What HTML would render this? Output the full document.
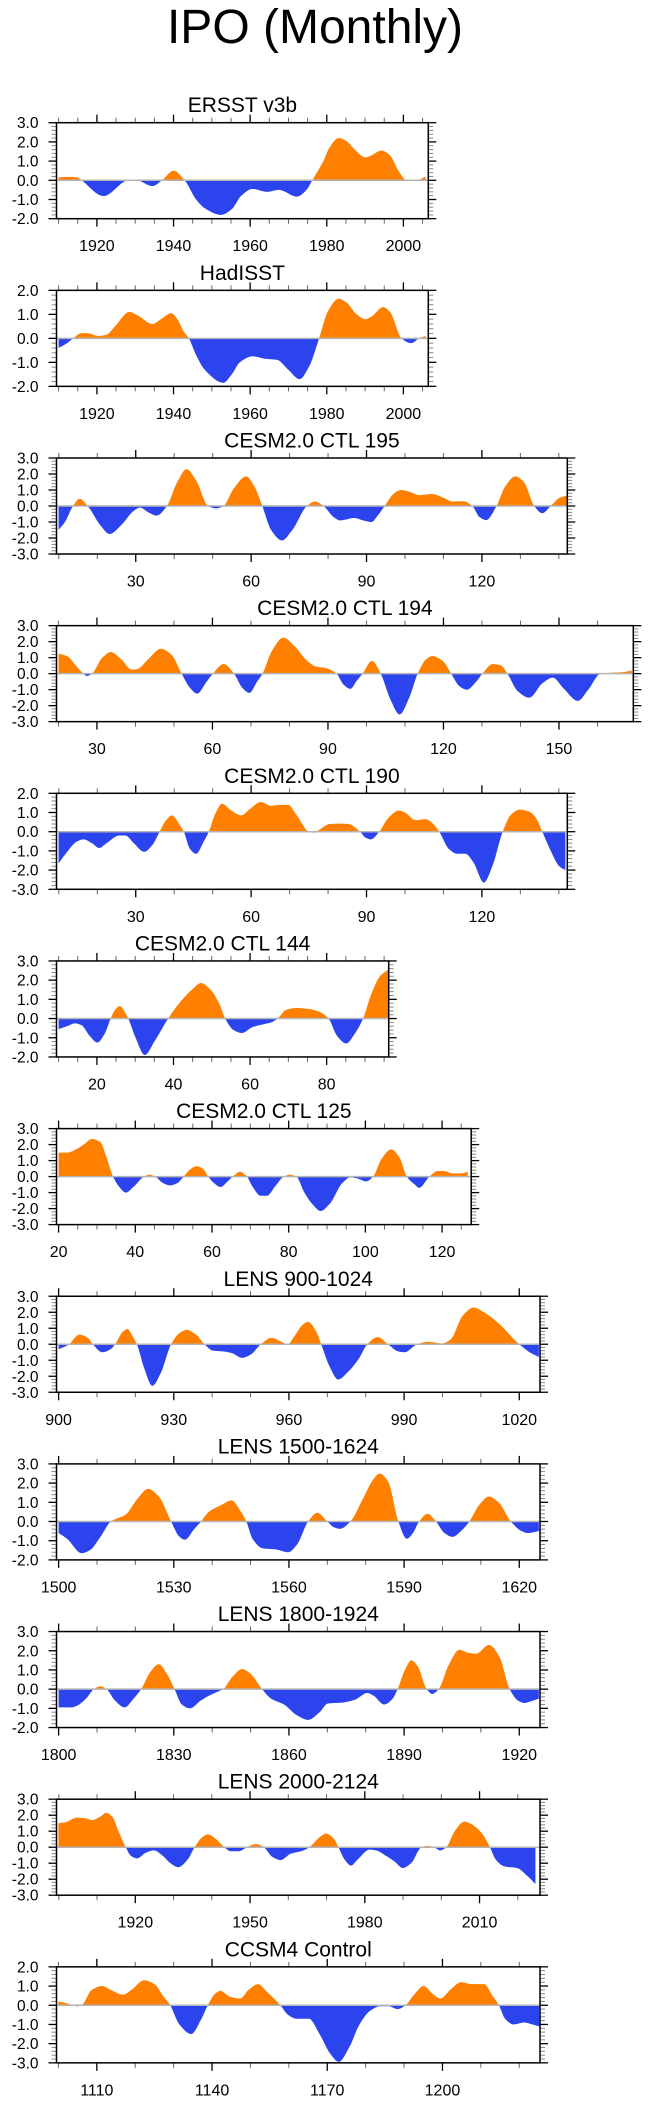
<!DOCTYPE html>
<html><head><meta charset="utf-8">
<style>
html,body{margin:0;padding:0;background:#fff;}
svg{display:block;font-family:"Liberation Sans",Arial,sans-serif;}
</style></head>
<body>
<svg id="chart" width="654" height="2105" viewBox="0 0 654 2105" xmlns="http://www.w3.org/2000/svg">
<text x="315" y="43" font-size="48" text-anchor="middle">IPO (Monthly)</text>
</svg>
<script>
// ---------- data ----------
const ersstX = [1910,1912.7,1914.9,1916,1921.7,1928,1929.6,1930.7,1934.5,1937,1940,1942.9,1945.9,1948.1,1952.4,1955.2,1957.7,1960.6,1964.4,1967.5,1972.2,1974.7,1976.2,1979.1,1980.7,1983.1,1985.1,1987.3,1990,1991.1,1994.3,1996.5,1998.7,2000.9,2003.6,2005.8];
const ersstY = [0.15,0.18,0.15,0,-0.82,0,0.04,0,-0.3,0,0.5,0,-1.0,-1.45,-1.8,-1.5,-0.8,-0.45,-0.6,-0.5,-0.85,-0.5,0,1.0,1.7,2.2,2.05,1.6,1.2,1.25,1.55,1.3,0.5,0,0,0.2];

const hadX = [1910,1912.2,1913.8,1916,1918.1,1920.3,1922.5,1924.7,1928.5,1930.7,1934.5,1936.7,1939.4,1941,1942.6,1944,1945.9,1948.1,1953,1955.2,1957.3,1960.6,1963.9,1967.1,1969.9,1972.9,1975.3,1978,1980.2,1983.1,1985.1,1987.8,1990,1991.6,1994.7,1996.5,1999.5,2002,2004.1,2005.8];
const hadY = [-0.4,-0.2,0,0.22,0.2,0.1,0.15,0.5,1.1,0.95,0.6,0.8,1.05,0.8,0.3,0,-0.7,-1.3,-1.85,-1.5,-1.0,-0.75,-0.85,-0.9,-1.3,-1.7,-1.2,0,1.1,1.65,1.5,1.0,0.8,0.9,1.3,1.1,0,-0.2,0,0.1];

const c195X = [9.94,11.6,13.7,15.4,17.5,20.8,23.2,26.2,29.5,31.1,33.3,35.4,38.1,40.8,43.2,45.7,48.8,50.9,52.8,55.5,58.7,60.9,62.9,65.2,68,70.7,74.5,76.6,78.8,81.5,83.1,86.9,89.1,91.3,92.9,94.7,97.2,98.9,101.6,103.7,107,109.7,112.4,115.1,117.5,119.4,121.1,123.8,126,128.7,130.9,133.6,135.7,137.9,140.1,142];
const c195Y = [-1.49,-1.0,0,0.45,0,-1.2,-1.75,-1.2,-0.3,-0.1,-0.4,-0.6,0,1.5,2.3,1.6,0,-0.15,0,1.1,1.85,1.2,0,-1.5,-2.15,-1.5,0,0.28,0,-0.7,-0.9,-0.75,-0.9,-1.0,-0.6,0,0.8,1.0,0.85,0.68,0.75,0.55,0.28,0.3,0,-0.7,-0.88,0,1.2,1.85,1.5,0,-0.45,0,0.5,0.65];

const c194X = [20.04,22.2,24.9,26.5,27.4,28.7,31.4,33.6,36.3,39,40.6,43.3,46.6,49.3,52,54.2,56,58.5,60.1,62.9,65.6,67.8,69.6,71.6,73,75.4,78.4,81.4,84.6,86.8,89.5,92.2,94.1,95.8,97.6,99,101.4,103.7,106.2,108.6,111.1,113.3,115.5,117.1,119.8,122,124.2,126.1,128.5,130.1,132.8,135,136.6,139.3,142.3,145.7,148.4,151.1,154.9,157.6,160.8,163,166.8,168.9];
const c194Y = [1.25,1.1,0.4,0,-0.15,0,1.0,1.35,0.9,0.25,0.3,0.9,1.55,1.2,0,-0.9,-1.25,-0.5,0,0.6,0,-0.9,-1.2,-0.5,0,1.4,2.25,1.7,0.8,0.45,0.35,0,-0.7,-0.95,-0.4,0,0.8,0,-1.6,-2.55,-1.5,0,0.9,1.1,0.8,0,-0.8,-1.0,-0.5,0,0.6,0.5,0,-1.1,-1.5,-0.6,-0.25,-0.9,-1.7,-1.0,0,0.05,0.1,0.2];

const c190X = [9.94,11.6,14.8,16.4,18.6,20.5,22.4,25.7,27.3,29.5,32.2,34.3,36.2,37.9,39.4,41.3,42.5,44.1,45.7,47.7,49,50.6,52.4,54.9,57.4,59.8,62.5,65.2,67.4,69.6,71.7,75,76.3,77.7,80.4,82.6,85.3,88.3,89.7,91.1,93.3,95.6,98.4,100,102.7,105.4,107.1,108.9,111.4,113.6,115.7,117.8,120.5,122.7,125.4,127.6,129.8,132.3,134.1,135.7,137.9,140.1,141.7];
const c190Y = [-1.65,-1.2,-0.5,-0.4,-0.6,-0.85,-0.6,-0.2,-0.2,-0.6,-1.05,-0.7,0,0.6,0.85,0.4,0,-0.9,-1.15,-0.5,0,0.9,1.45,1.1,0.85,1.2,1.55,1.35,1.4,1.4,0.9,0,-0.05,0.1,0.4,0.42,0.4,0,-0.3,-0.4,0,0.7,1.1,1.0,0.6,0.65,0.45,0,-0.9,-1.15,-1.15,-1.6,-2.65,-1.8,0,0.9,1.15,1.05,0.7,0,-1.0,-1.8,-2.0];

const c144X = [10,12.2,14.3,16,18.1,20.1,22,23.6,24.7,26,27.4,28.2,30.1,32.5,35,38.6,41.5,44.8,47.2,49.7,51.9,53.5,55.7,57.9,60.6,63.4,65.5,67.2,69.4,72.1,75.3,78.1,80.5,82.7,85.1,87.3,89.5,91.7,93.9,96.1];
const c144Y = [-0.55,-0.4,-0.25,-0.35,-0.9,-1.25,-0.8,0,0.45,0.65,0.3,0,-1.0,-1.9,-1.2,0,0.8,1.5,1.85,1.5,0.8,0,-0.6,-0.75,-0.45,-0.3,-0.2,0,0.45,0.55,0.5,0.35,0,-0.9,-1.3,-0.8,0,1.3,2.2,2.55];

const c125X = [20,22.2,24.9,26.5,28.7,30.9,32.5,34.2,36,37.5,39.5,42.3,43.7,45.2,47.2,49.1,51,52.6,54.3,55.9,57.6,59,60.5,62.2,64.1,65.4,67.3,69.1,70.5,72.7,74.3,76.5,78.7,80.3,82,84.1,86.3,88.3,90.7,94,96.1,97.7,100.2,102,104.2,106.7,108.9,110.8,112.9,114,116.7,118.9,120.5,122.7,124.9,126.7];
const c125Y = [1.5,1.5,1.75,2.0,2.35,2.15,1.2,0,-0.7,-1.0,-0.65,0,0.12,0,-0.4,-0.55,-0.4,0,0.45,0.65,0.5,0,-0.4,-0.65,-0.3,0,0.3,0,-0.6,-1.2,-1.2,-0.6,0,0.12,0,-1.0,-1.75,-2.15,-1.7,-0.4,-0.05,-0.1,-0.3,0,1.1,1.7,1.2,0,-0.5,-0.7,0,0.35,0.35,0.2,0.2,0.3];

const l900X = [900,901.6,902.7,905.4,907.6,908.9,911.4,913.6,914.7,916.8,917.9,919.5,920.4,922.3,924.4,926.6,929.3,931.5,933.4,935.8,938,940.2,942.9,945.1,947.8,950,952.7,955.4,958.1,959.7,961.4,963.5,964.9,967.1,968.4,970.6,972.8,975.5,978.2,980.4,983.1,985.8,988.5,990.1,993.4,996.1,998.3,999.9,1002.1,1005.3,1008.1,1010.8,1015.1,1019.5,1020,1022.7,1025.1];
const l900Y = [-0.3,-0.15,0,0.6,0.4,0,-0.5,-0.3,0,0.8,0.95,0.4,0,-1.5,-2.6,-1.8,0,0.7,0.9,0.6,0,-0.4,-0.45,-0.55,-0.85,-0.65,0,0.4,0.15,0,0.5,1.2,1.4,0.8,0,-1.4,-2.2,-1.7,-0.9,0,0.45,0,-0.45,-0.5,0,0.15,0.1,0.05,0.3,1.8,2.3,2.0,1.2,0.1,0,-0.5,-0.8];

const l1500X = [1500,1502.2,1506,1508.1,1510.9,1513.6,1517.4,1520.6,1523.3,1526.1,1529.3,1531.5,1532.9,1535.3,1537.1,1539.1,1542.3,1545.1,1547.2,1548.9,1550.5,1553.2,1556.5,1559.8,1562.1,1565,1567.4,1570,1571.7,1573.3,1576,1579.3,1582,1583.6,1585.8,1588.5,1590.7,1592.3,1593.9,1596.1,1598.3,1600.5,1602.6,1605.3,1607,1609.7,1612.1,1614.6,1617.8,1620.6,1622.2,1625.1];
const l1500Y = [-0.6,-0.9,-1.65,-1.5,-0.8,0,0.35,1.2,1.7,1.3,0,-0.8,-0.95,-0.4,0,0.5,0.85,1.1,0.6,0,-0.9,-1.4,-1.45,-1.6,-1.2,0,0.45,0,-0.3,-0.38,0,1.2,2.2,2.5,2.1,0,-0.9,-0.6,0,0.4,0,-0.6,-0.8,-0.4,0,0.9,1.3,1.0,0,-0.5,-0.6,-0.5];

const l1800X = [1800,1803.3,1804.9,1807.1,1809.2,1810.9,1812.5,1814.7,1817.2,1819.5,1821.5,1823.9,1826.1,1828.2,1830.2,1832.1,1834.2,1837,1839.1,1841.8,1842.9,1845.1,1847.8,1850,1853,1855.4,1858.7,1862,1865,1868,1870.1,1873.9,1877.2,1880.4,1882.1,1884.8,1887,1888.3,1890.2,1891.9,1893.5,1895.9,1897.3,1899,1901.7,1904.4,1906.6,1908.8,1912.1,1914.8,1917.5,1919.7,1921.3,1923.5,1925.1];
const l1800Y = [-0.95,-0.95,-0.85,-0.5,0,0.15,0,-0.6,-0.95,-0.5,0,0.9,1.3,0.8,0,-0.8,-1.0,-0.6,-0.35,-0.1,0,0.6,1.05,0.8,0,-0.5,-0.8,-1.35,-1.6,-1.2,-0.75,-0.7,-0.55,-0.2,-0.35,-0.8,-0.5,0,1.0,1.5,1.2,0,-0.25,0,1.3,2.05,1.9,1.85,2.3,1.7,0,-0.6,-0.72,-0.6,-0.5];

const l2000X = [1899.9,1901.6,1904.8,1907,1908.6,1910.8,1912.4,1914,1915.6,1917.5,1918.9,1920.5,1922.7,1924.9,1927,1929.2,1931.2,1933.6,1935.5,1937.4,1939,1941.1,1943.3,1944.9,1947.1,1949.2,1951.5,1953.6,1955.8,1958,1960.7,1963.4,1965.5,1968.3,1969.9,1972,1973.1,1974.8,1976.4,1978,1981.3,1982.9,1985.6,1987.8,1989.9,1992.1,1994.8,1996.4,1998.1,1999.7,2001.3,2003.5,2006,2007.8,2010.5,2012.7,2014.3,2016.5,2019.8,2022.5,2024.6];
const l2000Y = [1.5,1.55,1.85,1.8,1.7,1.9,2.15,1.9,1.0,0,-0.55,-0.7,-0.35,-0.2,-0.5,-1.0,-1.25,-0.8,0,0.6,0.8,0.5,0,-0.25,-0.25,0,0.2,0,-0.6,-0.8,-0.4,-0.25,0,0.65,0.85,0.5,0,-0.8,-1.15,-0.8,-0.15,-0.2,-0.55,-0.9,-1.3,-1.0,0,0.08,0,-0.2,0,1.0,1.6,1.45,0.9,0,-0.8,-1.2,-1.3,-1.8,-2.3];

const ccsmX = [1100,1102.2,1103.8,1104.9,1106,1108.7,1111.4,1114.1,1116.8,1119,1122.3,1125,1127.2,1129.1,1131.5,1134.6,1137,1138.9,1140.8,1142.2,1144.6,1147.3,1149.5,1152,1154.3,1157.8,1159.8,1162,1165.2,1168,1170.7,1173,1175.7,1178.4,1181.1,1183.8,1186,1188.3,1190.4,1192.6,1195.1,1197.4,1199.5,1202,1204.9,1207.6,1210.9,1213,1214.7,1216.3,1218.5,1221.2,1223.4,1225.2];
const ccsmY = [0.2,0.1,0,-0.05,0,0.8,1.0,0.75,0.55,0.8,1.3,1.1,0.5,0,-1.0,-1.5,-0.8,0,0.6,0.75,0.45,0.35,0.8,1.1,0.7,0,-0.5,-0.7,-0.7,-1.5,-2.5,-2.95,-2.2,-1.0,-0.3,-0.05,-0.05,-0.2,0,0.55,1.0,0.6,0.35,0.8,1.2,1.1,1.1,0.5,0,-0.7,-1.0,-0.9,-1.0,-1.1];

// y tick labels
const yLabels32 = ["3.0","2.0","1.0","0.0","-1.0","-2.0"];

// ---------- panel layout ----------
const panels = [
 {name:"ersst", title:"ERSST v3b", xs:ersstX, ys:ersstY, dom:[1909.45,2006.5], yd:[-2,3], right:428.3, major:[1920,1940,1960,1980,2000], minor:5, minorFrom:1910},
 {name:"hadisst", title:"HadISST", xs:hadX, ys:hadY, dom:[1909.45,2006.5], yd:[-2,2], right:428.3, major:[1920,1940,1960,1980,2000], minor:5, minorFrom:1910},
 {name:"cesm-ctl-195", title:"CESM2.0 CTL 195", xs:c195X, ys:c195Y, dom:[9.4,142.2], yd:[-3,3], right:567.3, major:[30,60,90,120], minor:10, minorFrom:10},
 {name:"cesm-ctl-194", title:"CESM2.0 CTL 194", xs:c194X, ys:c194Y, dom:[19.5,169.3], yd:[-3,3], right:633.3, major:[30,60,90,120,150], minor:10, minorFrom:20},
 {name:"cesm-ctl-190", title:"CESM2.0 CTL 190", xs:c190X, ys:c190Y, dom:[9.4,142.2], yd:[-3,2], right:567.3, major:[30,60,90,120], minor:10, minorFrom:10},
 {name:"cesm-ctl-144", title:"CESM2.0 CTL 144", xs:c144X, ys:c144Y, dom:[9.45,96.2], yd:[-2,3], right:388.7, major:[20,40,60,80], minor:5, minorFrom:10},
 {name:"cesm-ctl-125", title:"CESM2.0 CTL 125", xs:c125X, ys:c125Y, dom:[19.45,127.6], yd:[-3,3], right:471.2, major:[20,40,60,80,100,120], minor:5, minorFrom:20},
 {name:"lens-900", title:"LENS 900-1024", xs:l900X, ys:l900Y, dom:[899.45,1025.4], yd:[-3,3], right:540, major:[900,930,960,990,1020], minor:10, minorFrom:900},
 {name:"lens-1500", title:"LENS 1500-1624", xs:l1500X, ys:l1500Y, dom:[1499.45,1625.4], yd:[-2,3], right:540, major:[1500,1530,1560,1590,1620], minor:10, minorFrom:1500},
 {name:"lens-1800", title:"LENS 1800-1924", xs:l1800X, ys:l1800Y, dom:[1799.45,1925.4], yd:[-2,3], right:540, major:[1800,1830,1860,1890,1920], minor:10, minorFrom:1800},
 {name:"lens-2000", title:"LENS 2000-2124", xs:l2000X, ys:l2000Y, dom:[1899.4,2025.8], yd:[-3,3], right:540, major:[1920,1950,1980,2010], minor:10, minorFrom:1900},
 {name:"ccsm4-control", title:"CCSM4 Control", xs:ccsmX, ys:ccsmY, dom:[1099.5,1225.4], yd:[-3,2], right:540, major:[1110,1140,1170,1200], minor:10, minorFrom:1100}
];

const NS = "http://www.w3.org/2000/svg";
const svg = document.getElementById("chart");
const LEFT = 56.5, TOP0 = 122.7, STEP = 167.65, H = 96;

function mk(tag, attrs, parent){
  const e = document.createElementNS(NS, tag);
  for (const k in attrs) e.setAttribute(k, attrs[k]);
  parent.appendChild(e);
  return e;
}

// monotone cubic (Fritsch–Carlson) evaluation for smooth rendering between read points
function monotone(xs, ys){
  const n = xs.length, d = [], m = [];
  for (let i=0;i<n-1;i++) d.push((ys[i+1]-ys[i])/(xs[i+1]-xs[i]));
  m[0]=d[0]; m[n-1]=d[n-2];
  for (let i=1;i<n-1;i++){
    if (d[i-1]*d[i] <= 0) m[i]=0;
    else { const w1=2*(xs[i+1]-xs[i])+(xs[i]-xs[i-1]), w2=(xs[i+1]-xs[i])+2*(xs[i]-xs[i-1]);
      m[i]=(w1+w2)/(w1/d[i-1]+w2/d[i]); }
  }
  return function(x){
    let i=0; while(i<n-2 && x>xs[i+1]) i++;
    const h=xs[i+1]-xs[i], t=(x-xs[i])/h, t2=t*t, t3=t2*t;
    return (2*t3-3*t2+1)*ys[i]+(t3-2*t2+t)*h*m[i]+(-2*t3+3*t2)*ys[i+1]+(t3-t2)*h*m[i+1];
  };
}

panels.forEach((p, idx) => {
  const top = TOP0 + idx*STEP, bottom = top + H, right = p.right;
  const xScale = v => LEFT + (v - p.dom[0])/(p.dom[1]-p.dom[0])*(right-LEFT);
  const yScale = v => bottom - (v - p.yd[0])/(p.yd[1]-p.yd[0])*H;
  const g = mk("g", {}, svg);
  
  

  const title = mk("text", {x:(LEFT+right)/2, y:top-10.5, "font-size":21, "text-anchor":"middle"}, g);
  title.textContent = p.title;
  
  

  // area path
  const f = monotone(p.xs, p.ys);
  const x0 = p.xs[0], x1 = p.xs[p.xs.length-1];
  let d = "M" + xScale(x0).toFixed(2) + "," + yScale(0).toFixed(2);
  const N = 600;
  for (let i=0;i<=N;i++){ const xv = x0 + (x1-x0)*i/N; d += "L"+xScale(xv).toFixed(2)+","+yScale(f(xv)).toFixed(2); }
  d += "L" + xScale(x1).toFixed(2) + "," + yScale(0).toFixed(2) + "Z";

  const cidA = "clipA"+idx, cidB = "clipB"+idx;
  const defs = mk("defs", {}, g);
  const ca = mk("clipPath", {id:cidA}, defs);
  mk("rect", {x:0, y:0, width:654, height:yScale(0)}, ca);
  const cb = mk("clipPath", {id:cidB}, defs);
  mk("rect", {x:0, y:yScale(0), width:654, height:2105}, cb);

  const pos = mk("path", {d:d, fill:"#ff8000", "clip-path":"url(#"+cidA+")"}, g);
  
  
  const neg = mk("path", {d:d, fill:"#2b44ee", "clip-path":"url(#"+cidB+")"}, g);
  
  

  const zl = mk("line", {x1:LEFT, x2:right, y1:yScale(0), y2:yScale(0), stroke:"#b4b4b4", "stroke-width":1.5}, g);
  
  

  // ticks
  const ticks = mk("g", {}, g);
  
  
  for (let v=p.minorFrom; v<=p.dom[1]; v+=p.minor){
    const x = xScale(v); if (x < LEFT-0.5 || x > right+0.5) continue;
    const isMajor = p.major.indexOf(v) >= 0;
    const L = isMajor ? 8 : 5;
    const st = isMajor ? "#000" : "#666", sw = isMajor ? 1.3 : 1;
    mk("line", {x1:x, x2:x, y1:bottom, y2:bottom+L, stroke:st, "stroke-width":sw}, ticks);
    mk("line", {x1:x, x2:x, y1:top, y2:top-L, stroke:st, "stroke-width":sw}, ticks);
  }
  for (let k=0; k<=Math.round((p.yd[1]-p.yd[0])/0.2); k++){
    const v = p.yd[0] + k*0.2, y = yScale(v);
    const isMajor = k % 5 === 0;
    const L = isMajor ? 8 : 5;
    const st = isMajor ? "#000" : "#888", sw = isMajor ? 1.3 : 1;
    mk("line", {x1:LEFT, x2:LEFT-L, y1:y, y2:y, stroke:st, "stroke-width":sw}, ticks);
    mk("line", {x1:right, x2:right+L, y1:y, y2:y, stroke:st, "stroke-width":sw}, ticks);
  }

  // y labels
  const nY = p.yd[1]-p.yd[0];
  for (let k=0;k<=nY;k++){
    const v = p.yd[1]-k;
    const lbl = yLabels32[yLabels32.indexOf(v.toFixed(1))] || v.toFixed(1);
    const t = mk("text", {x:38.5, y:yScale(v)+5.5, "font-size":15.5, "text-anchor":"end"}, g);
    t.textContent = lbl;
    
    
  }
  // x labels
  p.major.forEach(v => {
    const t = mk("text", {x:xScale(v), y:bottom+32.5, "font-size":16, "text-anchor":"middle"}, g);
    t.textContent = String(v);
    
    
  });

  const fr = mk("rect", {x:LEFT, y:top, width:right-LEFT, height:H, fill:"none", stroke:"#000", "stroke-width":1.5}, g);
  
  
});
</script>
</body></html>
